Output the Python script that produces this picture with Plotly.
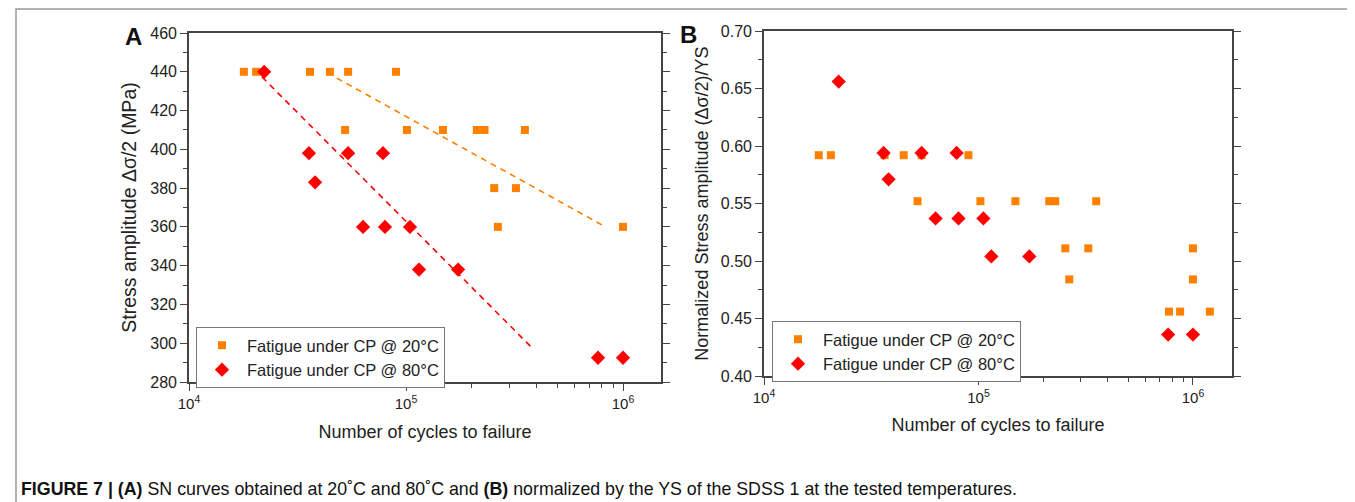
import plotly.graph_objects as go

# ---------------- data ----------------
# Panel A: stress amplitude (MPa) vs cycles to failure
N20_A = [17900, 20400, 36100, 44600, 54100, 89900,
         52400, 101000, 148000, 212000, 230000, 353000,
         255000, 321000, 265000, 1000000]
S20_A = [440, 440, 440, 440, 440, 440,
         410, 410, 410, 410, 410, 410,
         380, 380, 360, 360]

N80_A = [22200, 35700, 38100, 54100, 78300, 63400, 80000, 104300,
         114800, 173800, 767000, 1000000]
S80_A = [440, 398, 383, 398, 398, 360, 360, 360, 338, 338, 292.5, 292.5]

# Fitted trend lines (panel A)
FIT20_N = [43300, 800000]
FIT20_S = [439.5, 361]
FIT80_N = [21700, 381000]
FIT80_S = [437.3, 297.6]

# Panel B: normalized stress amplitude vs cycles to failure
N20_B = [18000, 20500, 36500, 44800, 54300, 89800,
         52000, 102100, 148600, 213800, 228000, 354000,
         254000, 325000, 1000000,
         265000, 1000000,
         773000, 871000, 1199000]
S20_B = [0.592] * 6 + [0.552] * 6 + [0.511] * 3 + [0.484] * 2 + [0.456] * 3

N80_B = [22300, 36100, 38100, 54300, 79100, 63100, 80700, 105400,
         114800, 172600, 766000, 1000000]
S80_B = [0.656, 0.594, 0.571, 0.594, 0.594, 0.537, 0.537, 0.537,
         0.504, 0.504, 0.436, 0.436]

LABEL20 = "Fatigue under CP @ 20°C"
LABEL80 = "Fatigue under CP @ 80°C"

X_TICKVALS = [1e4, 1e5, 1e6]
X_TICKTEXT = ["10<sup>4</sup>", "10<sup>5</sup>", "10<sup>6</sup>"]
YA_TICKS = [280, 300, 320, 340, 360, 380, 400, 420, 440, 460]
YB_TICKS = [0.40, 0.45, 0.50, 0.55, 0.60, 0.65, 0.70]

# ---------------- style ----------------
ORANGE = "#FF8000"
RED = "#FF0000"
AXC = "#444444"
FONT = "Liberation Sans, Arial, sans-serif"
W, H = 1355, 502
OFF = 8  # page body margin: screen pixel = figure pixel + 8


def px(x):
    return (x - OFF) / W


def py(y):
    return 1 - (y - OFF) / H


minor_x = [m * 10 ** e for e in (4, 5) for m in range(2, 10)] + [m * 1e6 for m in range(2, 10)]

fig = go.Figure()

# Panel A
fig.add_trace(go.Scatter(x=FIT20_N, y=FIT20_S, mode="lines", showlegend=False,
                         line=dict(color=ORANGE, width=1.6, dash="6px,5px"),
                         xaxis="x", yaxis="y"))
fig.add_trace(go.Scatter(x=FIT80_N, y=FIT80_S, mode="lines", showlegend=False,
                         line=dict(color=RED, width=1.6, dash="6px,5px"),
                         xaxis="x", yaxis="y"))
fig.add_trace(go.Scatter(x=N20_A, y=S20_A, mode="markers", name=LABEL20,
                         marker=dict(symbol="square", size=8, color=ORANGE),
                         xaxis="x", yaxis="y", legend="legend"))
fig.add_trace(go.Scatter(x=N80_A, y=S80_A, mode="markers", name=LABEL80,
                         marker=dict(symbol="diamond", size=11, color=RED),
                         xaxis="x", yaxis="y", legend="legend"))

# Panel B
fig.add_trace(go.Scatter(x=N20_B, y=S20_B, mode="markers", name=LABEL20,
                         marker=dict(symbol="square", size=8, color=ORANGE),
                         xaxis="x2", yaxis="y2", legend="legend2"))
fig.add_trace(go.Scatter(x=N80_B, y=S80_B, mode="markers", name=LABEL80,
                         marker=dict(symbol="diamond", size=11, color=RED),
                         xaxis="x2", yaxis="y2", legend="legend2"))


def xaxis_cfg(domain, rng, standoff):
    return dict(
        type="log", domain=domain, range=rng, automargin=False,
        tickmode="array", tickvals=X_TICKVALS, ticktext=X_TICKTEXT,
        ticks="outside", ticklen=7, tickwidth=1.3, tickcolor=AXC,
        minor=dict(tickmode="array", tickvals=minor_x, ticks="outside",
                   ticklen=4, tickwidth=1.2, tickcolor=AXC, showgrid=False),
        showline=True, linecolor=AXC, linewidth=1.6, mirror=True,
        showgrid=False, zeroline=False,
        tickfont=dict(family=FONT, size=15, color="#222222"),
        title=dict(text="Number of cycles to failure", standoff=standoff,
                   font=dict(family=FONT, size=18, color="#222222")),
    )


def yaxis_cfg(domain, rng, ticks, fmt, title, dt_minor, tsize):
    return dict(
        domain=domain, range=rng, automargin=False,
        tickmode="array", tickvals=ticks, tickformat=fmt,
        ticks="outside", ticklen=7, tickwidth=1.3, tickcolor=AXC,
        minor=dict(dtick=dt_minor, ticks="outside", ticklen=4, tickwidth=1.2,
                   tickcolor=AXC, showgrid=False),
        showline=True, linecolor=AXC, linewidth=1.6, mirror="ticks",
        showgrid=False, zeroline=False,
        tickfont=dict(family=FONT, size=16, color="#222222"),
        title=dict(text=title, standoff=8,
                   font=dict(family=FONT, size=tsize, color="#222222")),
    )


xa = xaxis_cfg([px(189), px(661)], [4, 6.175], 15)
xa["anchor"] = "y"
xb = xaxis_cfg([px(764), px(1232)], [4, 6.182], 14)
xb["anchor"] = "y2"
ya = yaxis_cfg([py(382), py(33)], [280, 460], YA_TICKS, "d",
               "Stress amplitude Δσ/2 (MPa)", 10, 19.5)
ya["anchor"] = "x"
yb = yaxis_cfg([py(376), py(31)], [0.40, 0.70], YB_TICKS, ".2f",
               "Normalized Stress amplitude (Δσ/2)/YS", 0.025, 18)
yb["anchor"] = "x2"

legend_common = dict(
    xanchor="left", yanchor="top", bgcolor="white",
    bordercolor="#777777", borderwidth=1,
    font=dict(family=FONT, size=16.5, color="#222222"),
    tracegroupgap=0, itemsizing="trace", itemwidth=40,
)

fig.update_layout(
    width=W, height=H, autosize=False,
    margin=dict(l=0, r=0, t=0, b=0, autoexpand=False),
    paper_bgcolor="white", plot_bgcolor="white",
    xaxis=xa, yaxis=ya, xaxis2=xb, yaxis2=yb,
    legend=dict(x=px(196), y=py(327), **legend_common),
    legend2=dict(x=px(772), y=py(321), **legend_common),
    shapes=[dict(type="rect", xref="paper", yref="paper",
                 x0=px(16), x1=px(1353), y0=-0.2, y1=py(9),
                 line=dict(color="#999999", width=1.5), layer="below")],
    annotations=[
        dict(text="<b>A</b>", x=px(133), y=py(37), xref="paper", yref="paper",
             showarrow=False, xanchor="center", yanchor="middle",
             font=dict(family=FONT, size=24, color="#111111")),
        dict(text="<b>B</b>", x=px(688), y=py(35), xref="paper", yref="paper",
             showarrow=False, xanchor="center", yanchor="middle",
             font=dict(family=FONT, size=24, color="#111111")),
        dict(text="<b>FIGURE 7 | (A)</b> SN curves obtained at 20˚C and 80˚C and <b>(B)</b> "
                  "normalized by the YS of the SDSS 1 at the tested temperatures.",
             x=px(19), y=py(489), xref="paper", yref="paper",
             showarrow=False, xanchor="left", yanchor="middle",
             font=dict(family="Liberation Sans Narrow, Arial Narrow, sans-serif",
                       size=17.8, color="#111111")),
    ],
)

fig.write_html("out.html")
